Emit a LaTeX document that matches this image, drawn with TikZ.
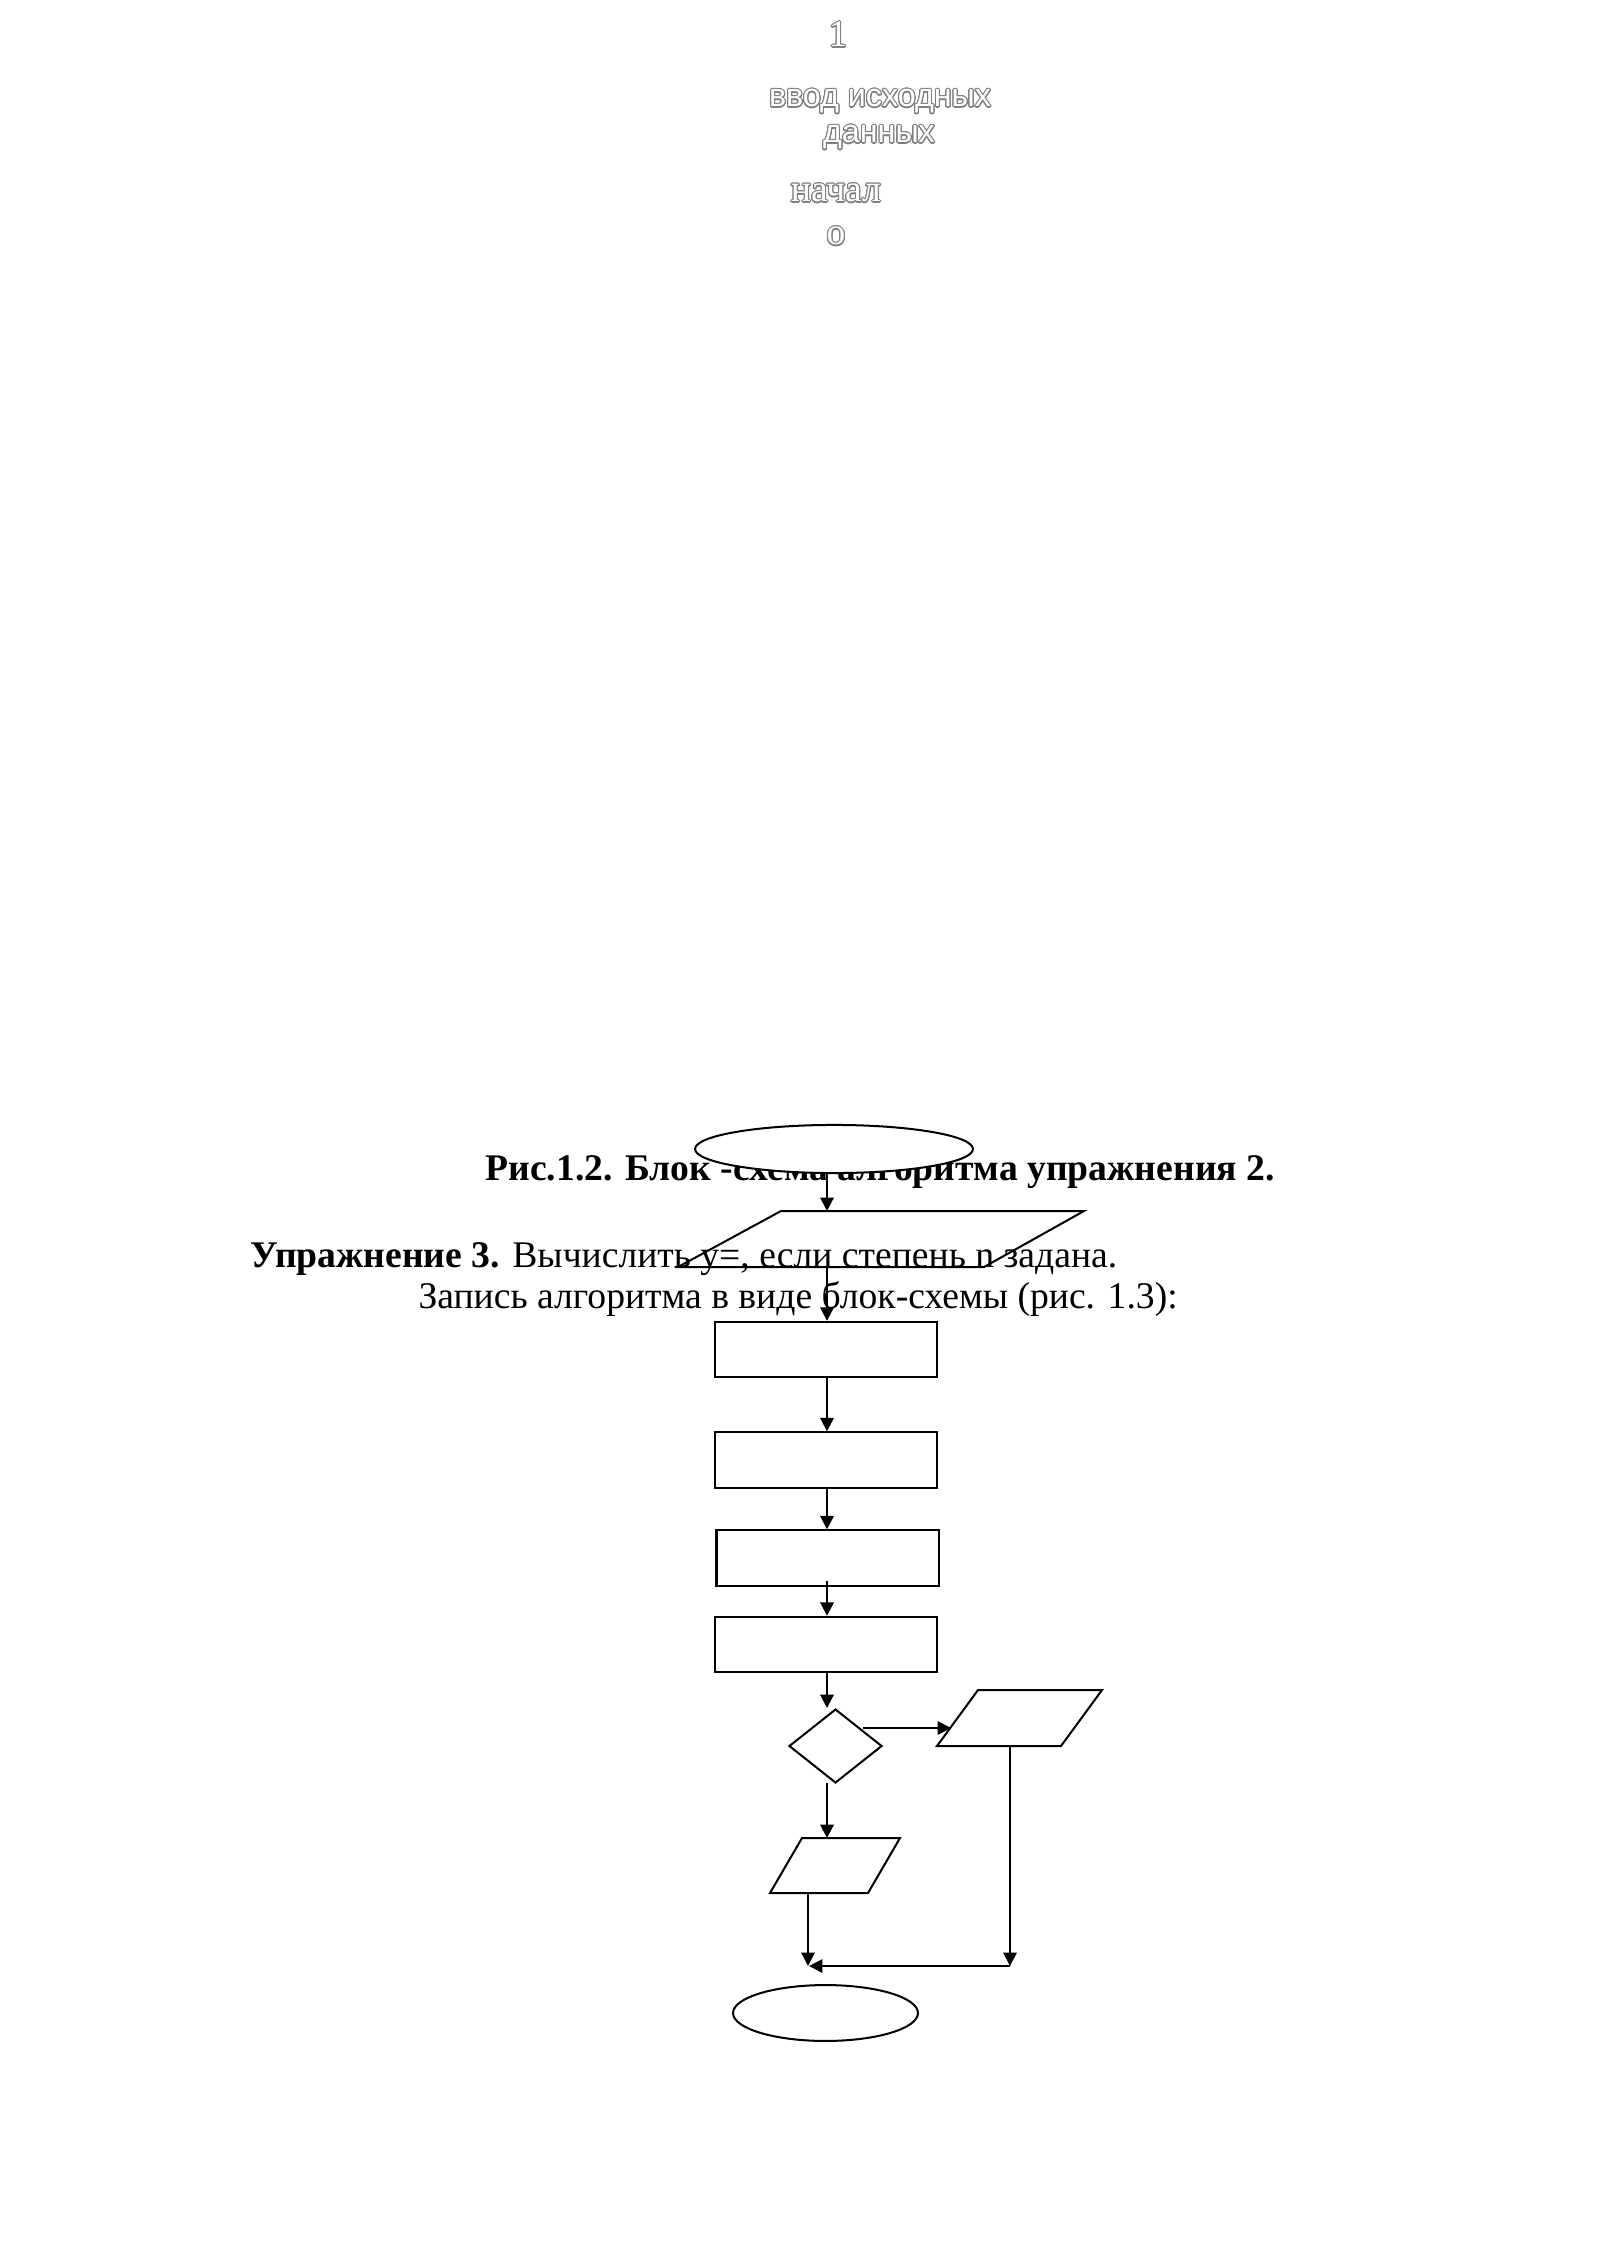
\documentclass[tikz,border=0pt]{standalone}
\usepackage{fontspec}
\setmainfont{Liberation Serif}
\newfontfamily\outsans{Liberation Sans}
\usepackage[copies]{contour}
\contourlength{0.38pt}
\contournumber{32}
\usetikzlibrary{shapes.geometric,arrows.meta,calc}
\tikzset{
  fig/.style={draw=black, line width=0.75pt, inner sep=0pt},
  boxnode/.style={fig, rectangle, minimum width=82.6pt, minimum height=20.6pt},
  ovalnode/.style={fig, ellipse, fill=white},
  decnode/.style={fig, diamond, minimum width=34.6pt, minimum height=27.5pt},
  para/.style={draw=black, line width=0.75pt, line join=miter},
  arr/.style={line width=0.75pt, -{Triangle[length=5pt,width=5pt]}},
  maintext/.style={inner sep=0pt, anchor=base west, font=\fontsize{14}{16}\selectfont},
  outtext/.style={inner sep=0pt, anchor=base, text=white},
}
\begin{document}
\begin{tikzpicture}[x=0.37205pt,y=-0.37205pt]
\fill[white] (0,0) rectangle (1600,2262);
\useasboundingbox (0,0) rectangle (1600,2262);

% outlined labels at the top
\node[outtext, font=\fontsize{14}{16}\selectfont] (one) at (838,47) {\contour{black!50}{1}};
\node[outtext, font=\outsans\fontsize{12}{14}\selectfont] (inp1) at (880,107) {\contour{black!50}{ввод исходных}};
\node[outtext, font=\outsans\fontsize{12}{14}\selectfont] (inp2) at (879,143) {\contour{black!50}{данных}};
\node[outtext, font=\fontsize{14}{16}\selectfont] (beg1) at (836,202) {\contour{black!50}{начал}};
\node[outtext, font=\fontsize{14}{16}\selectfont] (beg2) at (836,245) {\contour{black!50}{о}};

% text
\node[maintext] (cap) at (485,1180) {\textbf{Рис.1.2. Блок -схема алгоритма упражнения 2.}};
\node[maintext] (ex) at (250,1267) {\textbf{Упражнение 3.} Вычислить y=, если степень n задана.};
\node[maintext] (rec) at (418,1308) {Запись алгоритма в виде блок-схемы (рис. 1.3):};

\coordinate (axis) at (827,0);

% shapes
\node[ovalnode, minimum width=103.4pt, minimum height=17.9pt] (start) at (834,1149) {};

\coordinate (p1a) at (781,1211);
\coordinate (p1b) at (1084,1211);
\coordinate (p1c) at (984,1267);
\coordinate (p1d) at (678,1267);
\draw[para] (p1a) -- (p1b) -- (p1c) -- (p1d) -- cycle;

\node[boxnode] (r1) at (826,1349.5) {};
\node[boxnode] (r2) at (826,1460) {};
\node[boxnode] (r3) at (827.5,1558) {};
\node[boxnode] (r4) at (826,1644.5) {};

\node[decnode] (dec) at (835.5,1746) {};
\coordinate (decin) at (827,1708);
\coordinate (decout) at (863,1728);
\coordinate (decdown) at (827,1783);

\coordinate (p2a) at (978,1690);
\coordinate (p2b) at (1102,1690);
\coordinate (p2c) at (1061,1746);
\coordinate (p2d) at (937,1746);
\draw[para] (p2a) -- (p2b) -- (p2c) -- (p2d) -- cycle;
\coordinate (p2in) at (951,1728);
\coordinate (p2out) at (1010,1746);

\coordinate (p3a) at (802,1838);
\coordinate (p3b) at (900,1838);
\coordinate (p3c) at (868,1893);
\coordinate (p3d) at (770,1893);
\draw[para] (p3a) -- (p3b) -- (p3c) -- (p3d) -- cycle;
\coordinate (p3out) at (808,1893);

\coordinate (join) at (1010,1966);
\coordinate (merge) at (809,1966);

\node[ovalnode, minimum width=68.8pt, minimum height=20.8pt] (stop) at (825.5,2013) {};

% connectors
\draw[arr] (start.south -| axis) -- (axis |- p1a);
\draw[arr] (axis |- p1d) -- (axis |- r1.north);
\draw[arr] (axis |- r1.south) -- (axis |- r2.north);
\draw[arr] (axis |- r2.south) -- (axis |- r3.north);
\draw[arr] ($(axis |- r3.south)+(0,-6)$) -- (axis |- r4.north);
\draw[arr] (axis |- r4.south) -- (decin);
\draw[arr] (decout) -- (p2in);
\draw[arr] (decdown) -- (axis |- p3a);
\draw[arr] (p3out) -- (p3out |- merge);
\draw[arr] (p2out) -- (join);
\draw[arr] (join) -- (merge);
\end{tikzpicture}
\end{document}
